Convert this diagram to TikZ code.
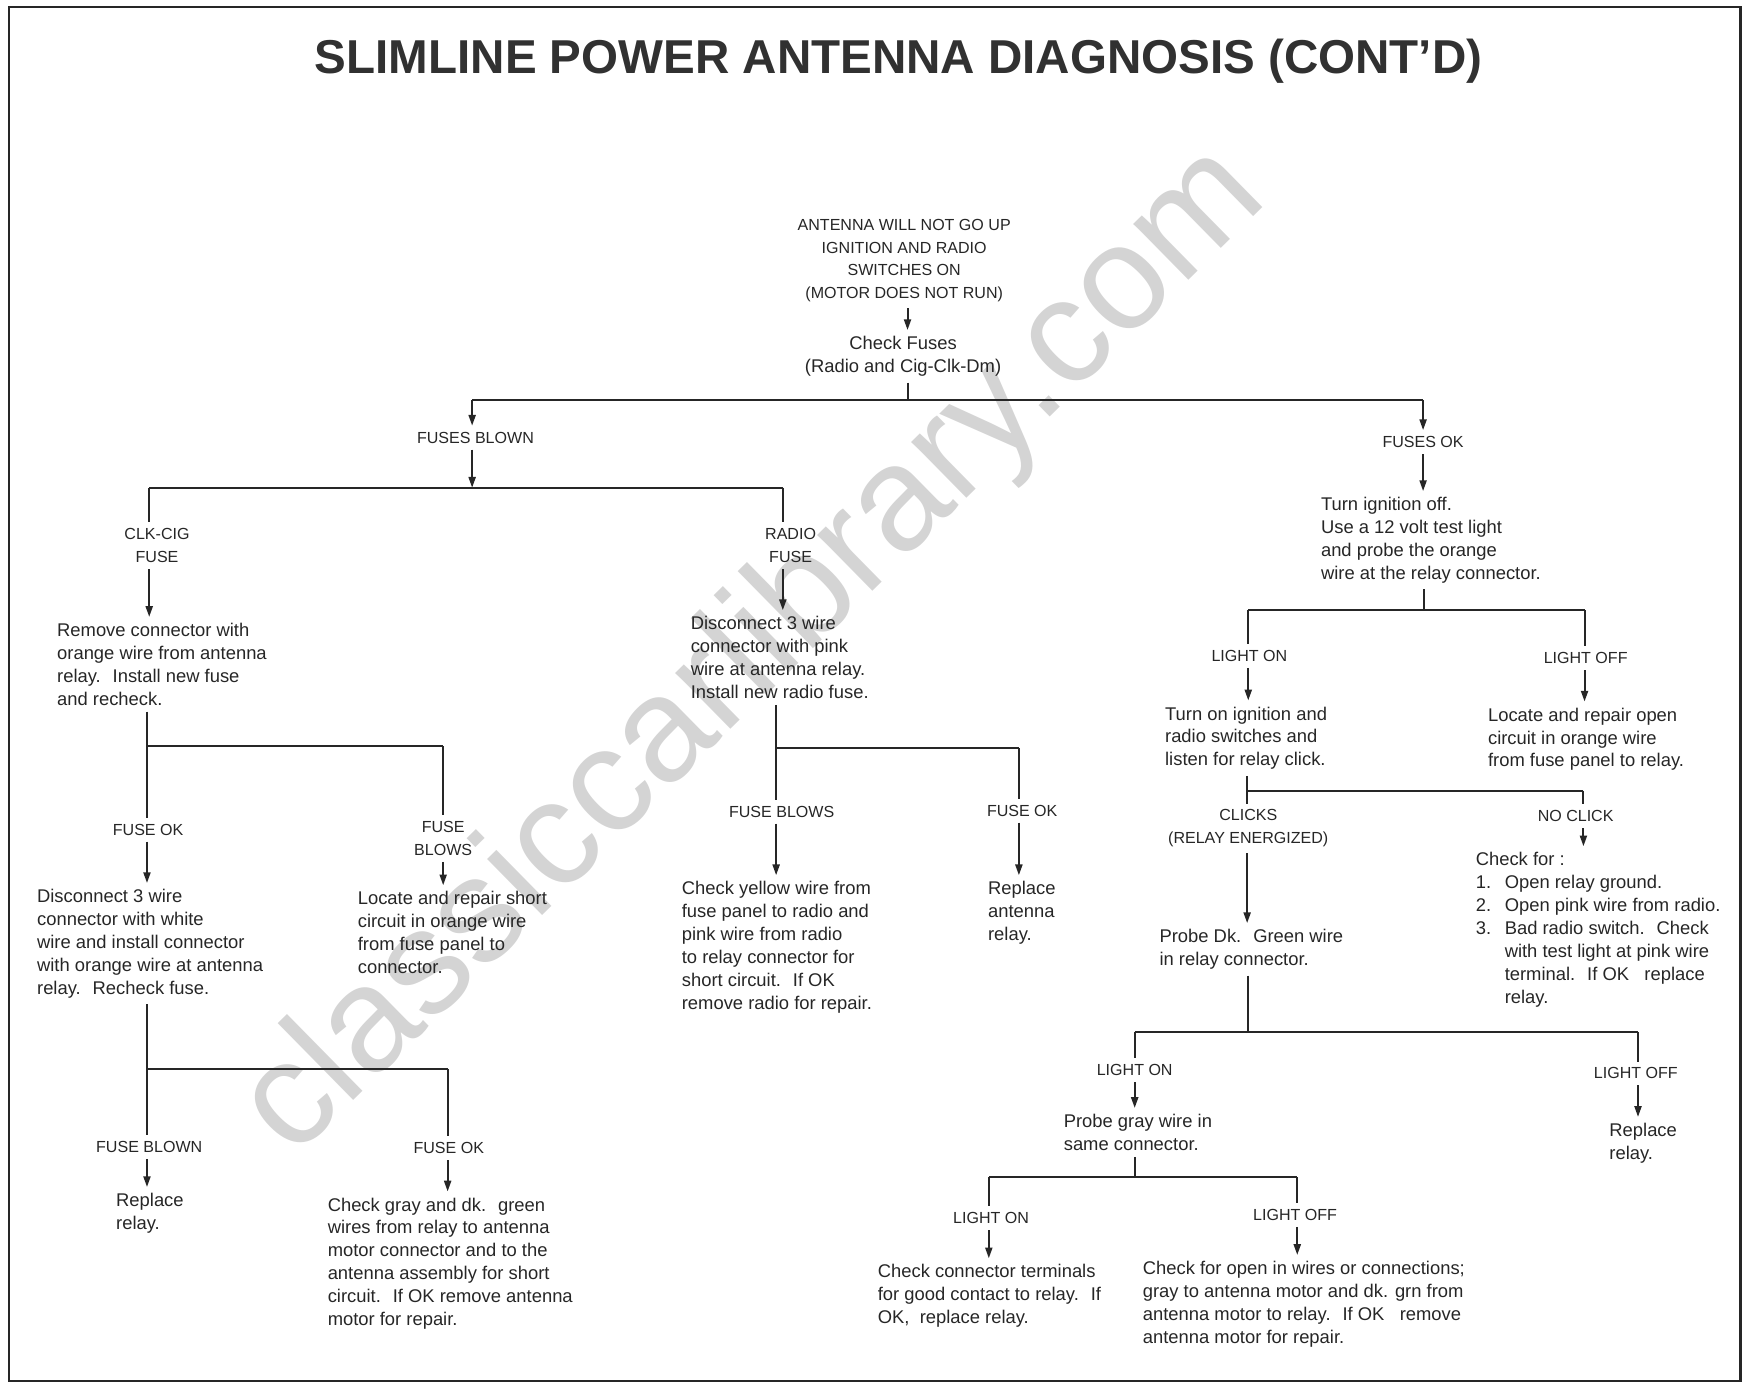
\documentclass[tikz,border=0pt]{standalone}
\usepackage{fontspec}
\setmainfont{Liberation Sans}
\usetikzlibrary{arrows.meta}
\definecolor{inkgray}{HTML}{262626}
\definecolor{markgray}{HTML}{D4D4D4}
\newcommand{\itm}[1]{\makebox[0.52cm][l]{#1}}
\tikzset{
    txt/.style={anchor=north west, align=left, inner xsep=0pt, inner ysep=3pt, text=inkgray, font=\fontsize{9.4}{11.7}\selectfont},
    ctxt/.style={txt, anchor=center, align=center},
    lbl/.style={align=center, inner xsep=1pt, inner ysep=3pt, text=inkgray, font=\fontsize{8.2}{11.7}\selectfont},
    wire/.style={draw=inkgray, line width=1pt},
    arrow/.style={wire, -{Triangle[length=5.5pt,width=3.6pt]}},
    frame/.style={draw=inkgray, line width=1.1pt}
}

\begin{document}
\begin{tikzpicture}[x=0.02cm, y=-0.02cm]
        \useasboundingbox (0,0) rectangle (1568,1242);
        \node[rotate=44.5, text=markgray, font=\fontsize{76}{76}\selectfont] (mark) at (678,586) {classiccarlibrary.com};
        \draw[frame] (8,1240) -- (8,6) -- (1563,6) -- (1563,1240) -- cycle;
        \node[text=inkgray!95, font=\bfseries\fontsize{24.3}{28}\selectfont] (title) at (807,55) {SLIMLINE POWER ANTENNA DIAGNOSIS (CONT'D)};

        \node[lbl] (start) at (812,234) {ANTENNA WILL NOT GO UP\\IGNITION AND RADIO\\SWITCHES ON\\(MOTOR DOES NOT RUN)};
        \node[ctxt] (fuses) at (811,320) {Check Fuses\\(Radio and Cig-Clk-Dm)};
        \node[lbl] (blown) at (427,393) {FUSES BLOWN};
        \node[lbl] (fusesok) at (1278,397) {FUSES OK};

        \node[lbl] (clkcig) at (141,490) {CLK-CIG\\FUSE};
        \node[txt] (clkfix) at (51,554) {Remove connector with\\orange wire from antenna\\relay.~ Install new fuse\\and recheck.};
        \node[lbl] (lok1) at (133,745) {FUSE OK};
        \node[txt] (clkok) at (33,793) {Disconnect 3 wire\\connector with white\\wire and install connector\\with orange wire at antenna\\relay.~ Recheck fuse.};
        \node[lbl] (lblows1) at (398,753) {FUSE\\BLOWS};
        \node[txt] (clkblows) at (321,795) {Locate and repair short\\circuit in orange wire\\from fuse panel to\\connector.};
        \node[lbl] (lblown2) at (134,1030) {FUSE BLOWN};
        \node[txt] (replace1) at (104,1066) {Replace\\relay.};
        \node[lbl] (lok2) at (403,1031) {FUSE OK};
        \node[txt] (checkgray) at (294,1070) {Check gray and dk.~ green\\wires from relay to antenna\\motor connector and to the\\antenna assembly for short\\circuit.~ If OK remove antenna\\motor for repair.};

        \node[lbl] (radiofuse) at (710,490) {RADIO\\FUSE};
        \node[txt] (radiofix) at (620,548) {Disconnect 3 wire\\connector with pink\\wire at antenna relay.\\Install new radio fuse.};
        \node[lbl] (lblows3) at (702,729) {FUSE BLOWS};
        \node[txt] (yellow) at (612,786) {Check yellow wire from\\fuse panel to radio and\\pink wire from radio\\to relay connector for\\short circuit.~ If OK\\remove radio for repair.};
        \node[lbl] (lok3) at (918,728) {FUSE OK};
        \node[txt] (replaceant) at (887,786) {Replace\\antenna\\relay.};

        \node[txt] (turnoff) at (1186,441) {Turn ignition off.\\Use a 12 volt test light\\and probe the orange\\wire at the relay connector.};
        \node[lbl] (lon1) at (1122,589) {LIGHT ON};
        \node[txt] (turnon) at (1046,629) {Turn on ignition and\\radio switches and\\listen for relay click.};
        \node[lbl] (loff1) at (1424,591) {LIGHT OFF};
        \node[txt] (locopen) at (1336,630) {Locate and repair open\\circuit in orange wire\\from fuse panel to relay.};
        \node[lbl] (clicks) at (1121,744) {CLICKS\\(RELAY ENERGIZED)};
        \node[txt] (probegreen) at (1041,829) {Probe Dk.~ Green wire\\in relay connector.};
        \node[lbl] (noclick) at (1415,733) {NO CLICK};
        \node[txt] (checkfor) at (1325,760) {Check for :\\\itm{1.}Open relay ground.\\\itm{2.}Open pink wire from radio.\\\itm{3.}Bad radio switch.~ Check\\\itm{}with test light at pink wire\\\itm{}terminal.~ If OK~~ replace\\\itm{}relay.};
        \node[lbl] (lon2) at (1019,961) {LIGHT ON};
        \node[txt] (probegray) at (955,995) {Probe gray wire in\\same connector.};
        \node[lbl] (loff2) at (1469,964) {LIGHT OFF};
        \node[txt] (replace2) at (1445,1003) {Replace\\relay.};
        \node[lbl] (lon3) at (890,1094) {LIGHT ON};
        \node[txt] (checkterm) at (788,1130) {Check connector terminals\\for good contact to relay.~ If\\OK,~ replace relay.};
        \node[lbl] (loff3) at (1163,1091) {LIGHT OFF};
        \node[txt] (checkopen) at (1026,1127) {Check for open in wires or connections;\\gray to antenna motor and dk. grn from\\antenna motor to relay.~ If OK~~ remove\\antenna motor for repair.};

        \coordinate (j0) at (815,359);
        \coordinate (b1l) at (424,359);
        \coordinate (b1r) at (1278,359);
        \coordinate (b2l) at (134,438);
        \coordinate (b2m) at (424,438);
        \coordinate (b2r) at (703,438);
        \coordinate (b3l) at (132,670);
        \coordinate (b3r) at (398,670);
        \coordinate (b4l) at (132,960);
        \coordinate (b4r) at (402,960);
        \coordinate (b5l) at (697,672);
        \coordinate (b5r) at (915,672);
        \coordinate (b6m) at (1279,548);
        \coordinate (b6l) at (1121,548);
        \coordinate (b6r) at (1423,548);
        \coordinate (b7l) at (1120,710);
        \coordinate (b7r) at (1422,710);
        \coordinate (b8m) at (1121,927);
        \coordinate (b8l) at (1019,927);
        \coordinate (b8r) at (1471,927);
        \coordinate (b9m) at (1019,1057);
        \coordinate (b9l) at (888,1057);
        \coordinate (b9r) at (1165,1057);

        \draw[arrow] (j0 |- start.south) -- (j0 |- fuses.north);
        \draw[wire] (j0 |- fuses.south) -- (j0);
        \draw[wire] (b1l) -- (b1r);
        \draw[arrow] (b1l) -- (b1l |- blown.north);
        \draw[arrow] (b1r) -- (b1r |- fusesok.north);
        \draw[arrow] (b1l |- blown.south) -- (b2m);
        \draw[wire] (b2l) -- (b2r);
        \draw[wire] (b2l) -- (b2l |- clkcig.north);
        \draw[arrow] (b2l |- clkcig.south) -- (b2l |- clkfix.north);
        \draw[wire] (b2r) -- (b2r |- radiofuse.north);
        \draw[arrow] (b2r |- radiofuse.south) -- (b2r |- radiofix.north);

        \draw[wire] (b3l |- clkfix.south) -- (b3l) -- (b3r);
        \draw[wire] (b3l) -- (b3l |- lok1.north);
        \draw[arrow] (b3l |- lok1.south) -- (b3l |- clkok.north);
        \draw[wire] (b3r) -- (b3r |- lblows1.north);
        \draw[arrow] (b3r |- lblows1.south) -- (b3r |- clkblows.north);
        \draw[wire] (b4l |- clkok.south) -- (b4l) -- (b4r);
        \draw[wire] (b4l) -- (b4l |- lblown2.north);
        \draw[arrow] (b4l |- lblown2.south) -- (b4l |- replace1.north);
        \draw[wire] (b4r) -- (b4r |- lok2.north);
        \draw[arrow] (b4r |- lok2.south) -- (b4r |- checkgray.north);

        \draw[wire] (b5l |- radiofix.south) -- (b5l) -- (b5r);
        \draw[wire] (b5l) -- (b5l |- lblows3.north);
        \draw[arrow] (b5l |- lblows3.south) -- (b5l |- yellow.north);
        \draw[wire] (b5r) -- (b5r |- lok3.north);
        \draw[arrow] (b5r |- lok3.south) -- (b5r |- replaceant.north);

        \draw[arrow] (b1r |- fusesok.south) -- (b1r |- turnoff.north);
        \draw[wire] (b6m |- turnoff.south) -- (b6m);
        \draw[wire] (b6l) -- (b6r);
        \draw[wire] (b6l) -- (b6l |- lon1.north);
        \draw[arrow] (b6l |- lon1.south) -- (b6l |- turnon.north);
        \draw[wire] (b6r) -- (b6r |- loff1.north);
        \draw[arrow] (b6r |- loff1.south) -- (b6r |- locopen.north);
        \draw[wire] (b7l |- turnon.south) -- (b7l |- clicks.north);
        \draw[wire] (b7l) -- (b7r);
        \draw[wire] (b7r) -- (b7r |- noclick.north);
        \draw[arrow] (b7r |- noclick.south) -- (b7r |- checkfor.north);
        \draw[arrow] (b7l |- clicks.south) -- (b7l |- probegreen.north);

        \draw[wire] (b8m |- probegreen.south) -- (b8m);
        \draw[wire] (b8l) -- (b8r);
        \draw[wire] (b8l) -- (b8l |- lon2.north);
        \draw[arrow] (b8l |- lon2.south) -- (b8l |- probegray.north);
        \draw[wire] (b8r) -- (b8r |- loff2.north);
        \draw[arrow] (b8r |- loff2.south) -- (b8r |- replace2.north);
        \draw[wire] (b9m |- probegray.south) -- (b9m);
        \draw[wire] (b9l) -- (b9r);
        \draw[wire] (b9l) -- (b9l |- lon3.north);
        \draw[arrow] (b9l |- lon3.south) -- (b9l |- checkterm.north);
        \draw[wire] (b9r) -- (b9r |- loff3.north);
        \draw[arrow] (b9r |- loff3.south) -- (b9r |- checkopen.north);
    \end{tikzpicture}
\end{document}
